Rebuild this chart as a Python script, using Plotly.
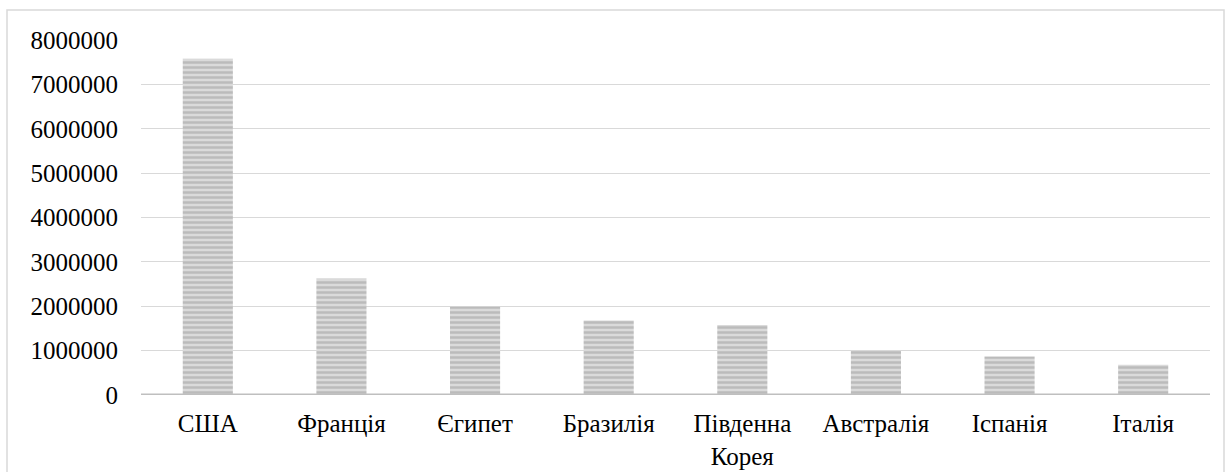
import plotly.graph_objects as go

countries = ["США", "Франція", "Єгипет", "Бразилія", "Південна<br>Корея",
             "Австралія", "Іспанія", "Італія"]
values = [7580000, 2625000, 1990000, 1680000, 1580000, 1000000, 865000, 680000]
y_ticks = [0, 1000000, 2000000, 3000000, 4000000, 5000000, 6000000, 7000000, 8000000]

W, H = 1231, 472
L, R, T, B = 141, 21, 40, 77
pw, ph = W - L - R, H - T - B

font = dict(family="Liberation Serif, Times New Roman, serif", size=25, color="#000000")

fig = go.Figure(
    go.Bar(
        x=countries,
        y=values,
        marker=dict(
            color="#d4d4d4",
            line=dict(width=0),
            pattern=dict(shape="-", fgcolor="#9c9c9c", bgcolor="#dadada",
                         size=5, solidity=0.5),
        ),
        hoverinfo="x+y",
    )
)

# outer chart frame
fx0 = (7 - L) / pw
fx1 = (1224 - L) / pw
fy1 = (H - B - 10) / ph
fy0 = (H - B - 520) / ph

fig.update_layout(
    width=W,
    height=H,
    margin=dict(l=L, r=R, t=T, b=B, autoexpand=False),
    paper_bgcolor="white",
    plot_bgcolor="white",
    bargap=0.625,
    showlegend=False,
    font=font,
    xaxis=dict(
        showgrid=False,
        showline=False,
        ticks="",
        tickfont=font,
        ticklabelstandoff=11,
        automargin=False,
    ),
    yaxis=dict(
        range=[0, 8000000],
        tickvals=y_ticks,
        ticktext=[str(v) for v in y_ticks],
        showgrid=True,
        gridcolor="#d9d9d9",
        gridwidth=1,
        zeroline=False,
        showline=False,
        ticks="",
        tickfont=font,
        ticklabelstandoff=22,
        automargin=False,
    ),
    shapes=[
        dict(type="line", xref="paper", yref="y", x0=0, x1=1, y0=0, y1=0,
             line=dict(color="#bfbfbf", width=3), layer="above"),
        dict(type="rect", xref="paper", yref="paper", x0=fx0, x1=fx1, y0=fy0, y1=fy1,
             line=dict(color="#d9d9d9", width=1.5), layer="below"),
    ],
)

fig.write_html("out.html")
